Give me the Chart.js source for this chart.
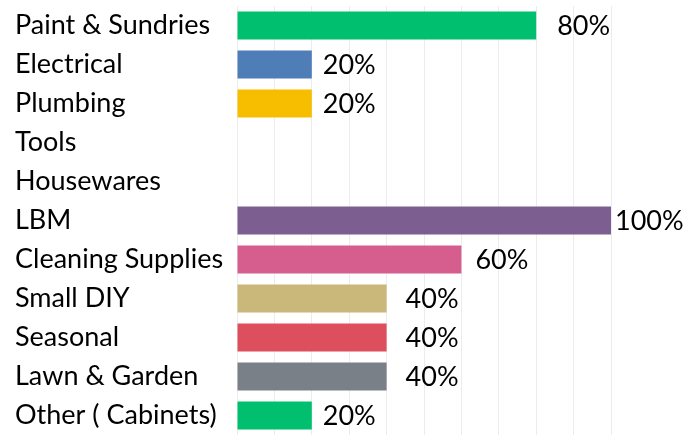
<!DOCTYPE html>
<html>
<head>
<meta charset="utf-8">
<script src="https://cdn.jsdelivr.net/npm/chart.js@4/dist/chart.umd.min.js"></script>
<style>
  html, body { margin: 0; padding: 0; background: #fff; }
  #wrap { width: 694px; height: 435px; }
</style>
</head>
<body>
<div id="wrap"><canvas id="chart"></canvas></div>
<script>
// categories and values
const categories = [
    'Paint & Sundries', 'Electrical', 'Plumbing', 'Tools', 'Housewares', 'LBM',
    'Cleaning Supplies', 'Small DIY', 'Seasonal', 'Lawn & Garden', 'Other ( Cabinets)'
];
const shares = [80, 20, 20, 0, 0, 100, 60, 40, 40, 40, 20];
const barColors = [
    '#00c06f', '#4f7db8', '#f7be00', '#7d5e91', '#7d5e91', '#7d5e91',
    '#d65e8e', '#c9b87a', '#dd4f5c', '#7a8087', '#00c06f'
];
// how far each value label sits from the end of its bar (px)
const labelGaps = [21, 11, 11, 0, 0, 4, 14, 19, 19, 19, 11];

const fontFamily = 'Lato';
const fontSize = 27;

// draws the "80%" style labels to the right of each bar
const valueLabels = {
    id: 'valueLabels',
    afterDatasetsDraw(chart) {
        const ctx = chart.ctx;
        const meta = chart.getDatasetMeta(0);
        ctx.save();
        ctx.font = fontSize + 'px ' + fontFamily;
        ctx.fillStyle = '#000';
        ctx.textAlign = 'left';
        ctx.textBaseline = 'middle';
        meta.data.forEach(function(bar, i) {
            if (!shares[i]) return;
            ctx.fillText(shares[i] + '%', bar.x + labelGaps[i], bar.y + 1);
        });
        ctx.restore();
    }
};

// drop the extra room chart.js keeps for half-height tick labels
function noScalePadding(scale) {
    scale.paddingTop = 0;
    scale.paddingBottom = 0;
    scale.paddingLeft = 0;
    scale.paddingRight = 0;
}

new Chart(document.getElementById('chart'), {
    type: 'bar',
    data: {
        labels: categories,
        datasets: [{
            data: shares,
            backgroundColor: barColors,
            borderWidth: 0,
            barPercentage: 0.72,
            categoryPercentage: 1
        }]
    },
    options: {
        indexAxis: 'y',
        responsive: true,
        maintainAspectRatio: false,
        animation: false,
        layout: { padding: { left: 15, right: 83, top: 6, bottom: 0 } },
        plugins: {
            legend: { display: false },
            tooltip: { enabled: false }
        },
        scales: {
            x: {
                min: 0,
                max: 100,
                ticks: { display: false, stepSize: 10 },
                grid: { color: '#ececec', lineWidth: 1, drawTicks: false },
                border: { display: false },
                afterFit(scale) {
                    scale.height = 0;
                    noScalePadding(scale);
                }
            },
            y: {
                ticks: {
                    crossAlign: 'far',
                    color: '#000',
                    font: { family: fontFamily, size: fontSize },
                    padding: 0
                },
                grid: { display: false, drawTicks: false },
                border: { display: false },
                afterFit(scale) {
                    scale.width = 222;
                    noScalePadding(scale);
                }
            }
        }
    },
    plugins: [valueLabels]
});
</script>
</body>
</html>
